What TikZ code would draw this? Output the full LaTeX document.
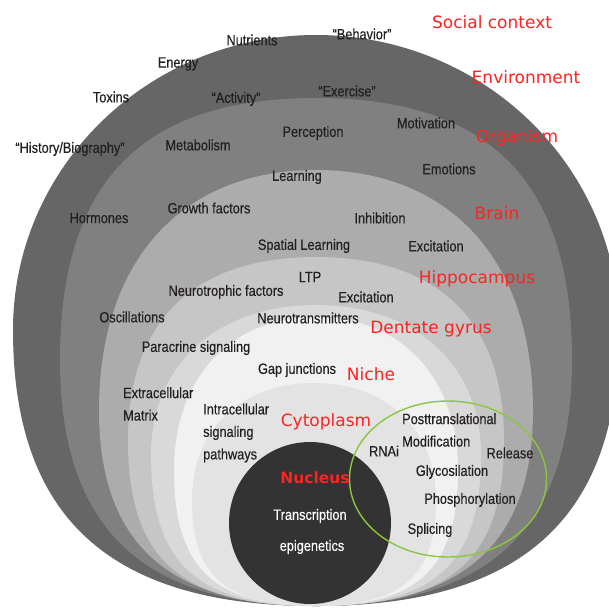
\documentclass[tikz,border=0pt]{standalone}
\usepackage{fontspec}
\setmainfont{Liberation Sans}
\newfontfamily\condf[FakeStretch=0.85,FakeBold=0.3]{Liberation Sans}
\newfontfamily\redf{DejaVu Sans}
\definecolor{cEnv}{HTML}{666666}
\definecolor{cOrg}{HTML}{808080}
\definecolor{cBrain}{HTML}{ACACAC}
\definecolor{cHippo}{HTML}{C6C6C6}
\definecolor{cDent}{HTML}{D9D9D9}
\definecolor{cNiche}{HTML}{F1F1F1}
\definecolor{cCyto}{HTML}{E3E3E3}
\definecolor{cNuc}{HTML}{333333}
\definecolor{cRed}{HTML}{FF2222}
\definecolor{cTxt}{HTML}{231F20}
\definecolor{cGreen}{HTML}{8CC63F}
% egg: cx, cy, a, b(top), b(bottom), k(top), k(bottom), colour
\newcommand\eggshape[8]{%
  \fill[#8] ({#1+#3},#2)
    .. controls ({#1+#3},{#2-#6*#4}) and ({#1+#6*#3},{#2-#4}) .. (#1,{#2-#4})
    .. controls ({#1-#6*#3},{#2-#4}) and ({#1-#3},{#2-#6*#4}) .. ({#1-#3},#2)
    .. controls ({#1-#3},{#2+#7*#5}) and ({#1-#7*#3},{#2+#5}) .. (#1,{#2+#5})
    .. controls ({#1+#7*#3},{#2+#5}) and ({#1+#3},{#2+#7*#5}) .. ({#1+#3},#2)
    -- cycle;}
\tikzset{
  lbl/.style={text=cTxt,font=\condf\fontsize{15}{22.5}\selectfont,inner sep=0pt},
  redlbl/.style={text=cRed,font=\redf\fontsize{17}{20}\selectfont,inner sep=0pt},
  wlbl/.style={text=white,font=\condf\fontsize{15}{18}\selectfont,inner sep=0pt},
}
\begin{document}
\begin{tikzpicture}[x=1pt,y=-1pt]
\useasboundingbox (0,0) rectangle (609,608);
\fill[white] (0,0) rectangle (609,608);
\begin{scope}
\clip (0,0) rectangle (609,608);
\eggshape{316}{330}{303}{295}{276}{0.5523}{0.68}{cEnv}
\eggshape{316}{360}{256}{262}{246}{0.68}{0.68}{cOrg}
\eggshape{316}{410}{217}{240}{196}{0.62}{0.68}{cBrain}
\eggshape{316}{440}{188}{183}{166}{0.65}{0.72}{cHippo}
\eggshape{316}{455}{165}{150}{151}{0.6}{0.72}{cDent}
\eggshape{316}{470}{142}{153}{136}{0.6}{0.72}{cNiche}
\eggshape{314}{500}{122}{117}{106}{0.6}{0.72}{cCyto}
\fill[cNuc] (310,523) circle[radius=81];
\end{scope}
\draw[cGreen,line width=1.4pt] (448,479) ellipse[x radius=98.5,y radius=78];

% red level labels
\node[redlbl] (social) at (492,22) {Social context};
\node[redlbl] (env) at (526,77) {Environment};
\node[redlbl] (org) at (517,138) {Organism};
\node[redlbl] (brain) at (497,213) {Brain};
\node[redlbl] (hippo) at (477,279) {Hippocampus};
\node[redlbl] (dent) at (431,329) {Dentate gyrus};
\node[redlbl] (niche) at (371,374) {Niche};
\node[redlbl] (cyto) at (326,422) {Cytoplasm};
\node[redlbl,font=\redf\bfseries\fontsize{15.5}{18}\selectfont] (nuc) at (315,478) {Nucleus};

% white labels in nucleus
\node[wlbl] (transc) at (310,516) {Transcription};
\node[wlbl] (epig) at (312,547) {epigenetics};

% black labels
\node[lbl] (nutr) at (252,40) {Nutrients};
\node[lbl] (behav) at (362,34) {“Behavior”};
\node[lbl] (energy) at (178,64) {Energy};
\node[lbl] (toxins) at (111,97) {Toxins};
\node[lbl] (activ) at (236,99) {“Activity”};
\node[lbl] (exerc) at (347,91) {“Exercise”};
\node[lbl] (hist) at (70,149) {“History/Biography”};
\node[lbl] (metab) at (198,145) {Metabolism};
\node[lbl] (perc) at (313,133) {Perception};
\node[lbl] (motiv) at (426,123) {Motivation};
\node[lbl] (emot) at (449,169) {Emotions};
\node[lbl] (learn) at (297,177) {Learning};
\node[lbl] (horm) at (99,218) {Hormones};
\node[lbl] (growth) at (209,208) {Growth factors};
\node[lbl] (inhib) at (380,218) {Inhibition};
\node[lbl] (spatial) at (304,246) {Spatial Learning};
\node[lbl] (excit1) at (436,246) {Excitation};
\node[lbl] (ltp) at (310,277) {LTP};
\node[lbl] (neurotr) at (226,292) {Neurotrophic factors};
\node[lbl] (excit2) at (366,297) {Excitation};
\node[lbl] (oscil) at (132,317) {Oscillations};
\node[lbl] (neurotm) at (308,318) {Neurotransmitters};
\node[lbl] (paracr) at (196,348) {Paracrine signaling};
\node[lbl] (gapj) at (297,370) {Gap junctions};
\node[lbl,align=left,anchor=west] (ecm) at (123,404) {Extracellular\\Matrix};
\node[lbl,align=left,anchor=west] (intra) at (203,433) {Intracellular\\signaling\\pathways};
\node[lbl] (rnai) at (384,451) {RNAi};
\node[lbl,align=left,anchor=west] (posttr) at (402,430) {Posttranslational\\Modification};
\node[lbl] (release) at (510,453) {Release};
\node[lbl] (glyco) at (452,472) {Glycosilation};
\node[lbl] (phos) at (470,500) {Phosphorylation};
\node[lbl] (splic) at (430,530) {Splicing};
\end{tikzpicture}
\end{document}
